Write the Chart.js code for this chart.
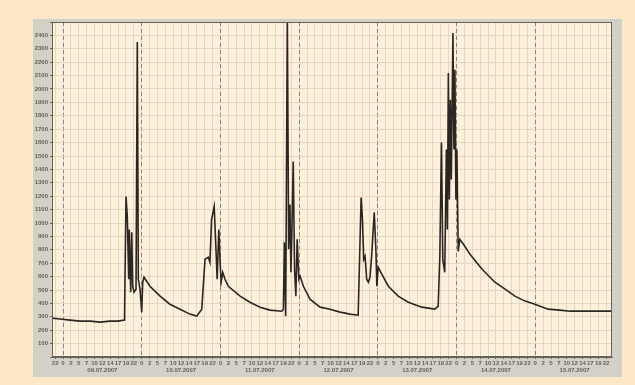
<!DOCTYPE html>
<html lang="en">
<head>
    <meta charset="UTF-8">
    <title>Chart</title>
    <style>
        html, body {
            margin: 0;
            padding: 0;
            background: #fde9c8;
        }
        #wrap {
            width: 635px;
            height: 385px;
        }
    </style>
</head>
<body>
    <div id="wrap">
        <canvas id="chart" width="635" height="385"></canvas>
    </div>

    <script src="https://cdn.jsdelivr.net/npm/chart.js"></script>
    <script>
        // time in hours from the first day line, measured value
        const hours = [
            -3.35, -0.91, 2.13, 5.18, 8.23, 11.28, 14.33, 16.77, 18.75,
            19.21, 19.6, 20.03, 20.21, 20.64, 20.95, 21.25, 21.65, 22.26, 22.65, 22.96, 23.48, 24.0, 24.3, 24.7,
            26.5, 29.6, 32.6, 35.7, 38.7, 40.8,
            42.3, 43.3, 44.3, 44.8, 45.3, 46.1, 46.6, 47.0, 47.5, 47.9, 48.2, 48.7, 49.4, 50.4,
            54.0, 57.0, 60.1, 63.1, 66.7,
            67.2, 67.5, 67.9, 68.4, 68.8, 69.2, 69.5, 69.8, 70.2, 70.6, 71.0, 71.4, 71.9, 72.3, 73.3,
            75.3, 78.4, 81.4, 84.5, 87.5, 90.0,
            90.9, 91.3, 91.7, 92.1, 92.6, 93.1, 93.6, 94.1, 94.9, 95.4, 95.7, 96.1, 97.2, 99.2,
            102.2, 105.3, 109.4, 113.4, 114.4,
            114.9, 115.4, 115.8, 116.4, 116.9, 117.2, 117.5, 117.8, 118.1, 118.4, 118.9, 119.2, 119.5, 119.8, 120.1, 120.5, 121.0, 122.1,
            124.1, 127.8, 131.7, 134.8, 137.8, 140.9, 143.9, 147.9, 151.5, 154.6, 157.6, 160.7, 163.7, 167.4
        ];
        const values = [
            290, 283, 275, 268, 268, 260, 268, 268, 275,
            1198, 1049, 580, 952, 484, 930, 528, 484, 506, 2351, 580, 506, 335, 558, 595,
            528, 454, 394, 357, 320, 305,
            357, 729, 744, 707, 1027, 1123, 826, 580, 952, 707, 558, 632, 580, 528,
            454, 409, 372, 350, 342,
            357, 856, 305, 2550, 804, 1138, 632, 952, 1458, 655, 454, 878, 580, 603, 528,
            432, 372, 357, 335, 320, 312,
            1190, 1027, 729, 751, 580, 558, 595, 751, 1079, 804, 528, 670, 618, 528,
            454, 409, 372, 357, 379,
            751, 1600, 729, 632, 1548, 952, 2120, 1175, 1920, 1324, 2418, 1548, 2143, 1175, 1548, 789, 878, 841,
            766, 655, 558, 506, 454, 417, 394, 357, 350, 342, 342, 342, 342, 342
        ];

        const dayLabels = ['09.07.2007', '10.07.2007', '11.07.2007', '12.07.2007', '13.07.2007', '14.07.2007', '15.07.2007'];
        const hourStep = 2.4;
        const xMin = -3.36;
        const xMax = 167.4;
        const yMax = 2500;

        const tickFont = { family: 'Liberation Sans', size: 6, weight: 'bold' };
        const tickColor = '#66625a';

        const panelPlugin = {
            id: 'panel',
            beforeDraw(chart) {
                const c = chart.ctx;
                const a = chart.chartArea;
                c.save();
                c.fillStyle = '#fde9c8';
                c.fillRect(0, 0, chart.width, chart.height);
                c.fillStyle = '#d3d0c8';
                c.fillRect(33, 19, 589, 358);
                c.fillStyle = '#fdf0dc';
                c.fillRect(a.left, a.top, a.right - a.left, a.bottom - a.top);
                c.restore();
            },
            afterDraw(chart) {
                const c = chart.ctx;
                const a = chart.chartArea;
                c.save();
                c.strokeStyle = '#66625a';
                c.lineWidth = 1;
                c.strokeRect(a.left + 0.5, a.top + 0.5, a.right - a.left - 1, a.bottom - a.top - 1);
                c.restore();
            }
        };

        const points = hours.map((h, i) => ({ x: h, y: values[i] }));

        new Chart(document.getElementById('chart'), {
            type: 'line',
            data: {
                datasets: [{
                    data: points,
                    borderColor: '#2b2622',
                    borderWidth: 1.6,
                    pointRadius: 0,
                    tension: 0
                }]
            },
            options: {
                responsive: false,
                animation: false,
                layout: { padding: { left: 33, top: 22, right: 23, bottom: 8 } },
                plugins: { legend: { display: false }, tooltip: { enabled: false } },
                scales: {
                    x: {
                        type: 'linear',
                        position: 'bottom',
                        min: xMin,
                        max: xMax,
                        weight: 0,
                        afterBuildTicks(axis) {
                            const t = [];
                            for (let v = -hourStep; v <= xMax; v += hourStep) t.push({ value: Math.round(v * 10) / 10 });
                            axis.ticks = t;
                        },
                        afterFit(axis) { axis.height = 9; },
                        ticks: {
                            font: tickFont,
                            color: tickColor,
                            padding: 1,
                            maxRotation: 0,
                            autoSkip: false,
                            callback: v => String(Math.round(((v % 24) + 24) % 24))
                        },
                        grid: { color: '#e6d6bb', lineWidth: 1, tickLength: 2, tickColor: '#66625a' },
                        border: { color: '#66625a' }
                    },
                    days: {
                        type: 'linear',
                        position: 'bottom',
                        min: xMin,
                        max: xMax,
                        weight: 1,
                        afterBuildTicks(axis) {
                            const t = [];
                            for (let v = 0; v <= xMax; v += 12) t.push({ value: v });
                            axis.ticks = t;
                        },
                        afterFit(axis) { axis.height = 11; },
                        ticks: {
                            font: tickFont,
                            color: tickColor,
                            padding: 1,
                            maxRotation: 0,
                            autoSkip: false,
                            callback: v => (v % 24 === 12 ? dayLabels[(v - 12) / 24] : '')
                        },
                        grid: {
                            drawTicks: false,
                            tickLength: 0,
                            lineWidth: 1,
                            color: c => (c.tick && c.tick.value % 24 === 0 ? '#8c867a' : 'rgba(0,0,0,0)')
                        },
                        border: { display: false, dash: [4, 3] }
                    },
                    y: {
                        min: 0,
                        max: yMax,
                        afterFit(axis) { axis.width = 19; },
                        ticks: {
                            stepSize: 100,
                            font: tickFont,
                            color: tickColor,
                            padding: 2,
                            autoSkip: false,
                            callback: v => (v === 0 || v === yMax ? '' : String(v))
                        },
                        grid: { color: '#e6d6bb', lineWidth: 1, tickLength: 2, tickColor: '#66625a' },
                        border: { color: '#66625a' }
                    }
                }
            },
            plugins: [panelPlugin]
        });
    </script>
</body>
</html>
